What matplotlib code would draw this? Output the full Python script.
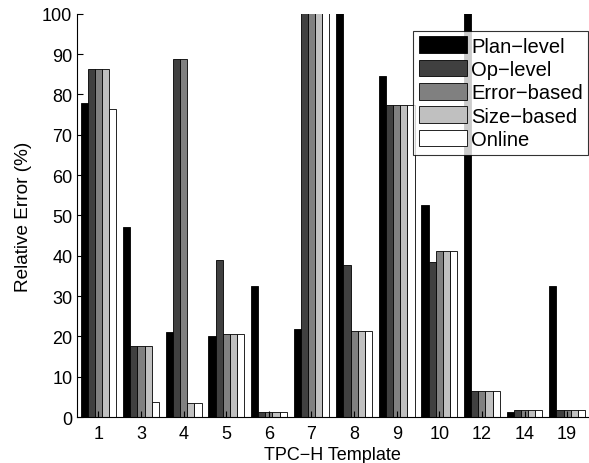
import numpy as np
import matplotlib
matplotlib.use("Agg")
from matplotlib import pyplot as plt

plt.rcParams['font.family'] = ['Liberation Sans', 'DejaVu Sans']

# TPC-H templates on the x axis
templates = ['1', '3', '4', '5', '6', '7', '8', '9', '10', '12', '14', '19']

# relative error (%) per method, values above 100 are clipped by the axis
plan_level = [78, 47.2, 21, 20, 32.5, 21.8, 130, 84.5, 52.5, 130, 1.3, 32.4]
op_level = [86.2, 17.6, 88.8, 39, 1.2, 130, 37.6, 77.3, 38.5, 6.5, 1.8, 1.7]
error_based = [86.2, 17.6, 88.8, 20.6, 1.2, 130, 21.3, 77.3, 41.1, 6.5, 1.8, 1.7]
size_based = [86.2, 17.6, 3.4, 20.6, 1.2, 130, 21.3, 77.3, 41.1, 6.5, 1.8, 1.7]
online = [76.5, 3.7, 3.4, 20.6, 1.2, 130, 21.3, 77.3, 41.1, 6.5, 1.8, 1.7]

series = [plan_level, op_level, error_based, size_based, online]
names = ['Plan\u2212level', 'Op\u2212level', 'Error\u2212based', 'Size\u2212based', 'Online']
colors = ['#000000', '#404040', '#808080', '#c0c0c0', '#ffffff']

fig = plt.figure(figsize=(5.89, 4.64), dpi=100)
ax = fig.add_axes([0.131, 0.099, 0.868, 0.869])

x = np.arange(1, len(templates) + 1)
w = 0.168
for i in range(len(series)):
    offset = (i - 2) * w
    ax.bar(x + offset, series[i], width=w, color=colors[i],
           edgecolor='black', linewidth=0.6, label=names[i])

ax.set_xlim(0.5, 12.5)
ax.set_ylim(0, 100)
ax.set_yticks(range(0, 101, 10))
ax.set_xticks(x)
ax.set_xticklabels(templates)
ax.tick_params(direction='in', labelsize=13, length=4)
ax.tick_params(axis='x', pad=5.5)
ax.spines['top'].set_visible(False)
ax.spines['right'].set_visible(False)
ax.set_xlabel('TPC\u2212H Template', fontsize=13, labelpad=3)
ax.set_ylabel('Relative Error (%)', fontsize=13.7, labelpad=7)

leg = ax.legend(loc='upper right', bbox_to_anchor=(1.0, 0.958), fontsize=14.5,
                frameon=True, fancybox=False, edgecolor='black',
                handlelength=2.4, handleheight=0.9, handletextpad=0.2,
                labelspacing=0.2, borderpad=0.28, borderaxespad=0)
leg.get_frame().set_linewidth(0.8)

fig.savefig('out.png', dpi=100)
